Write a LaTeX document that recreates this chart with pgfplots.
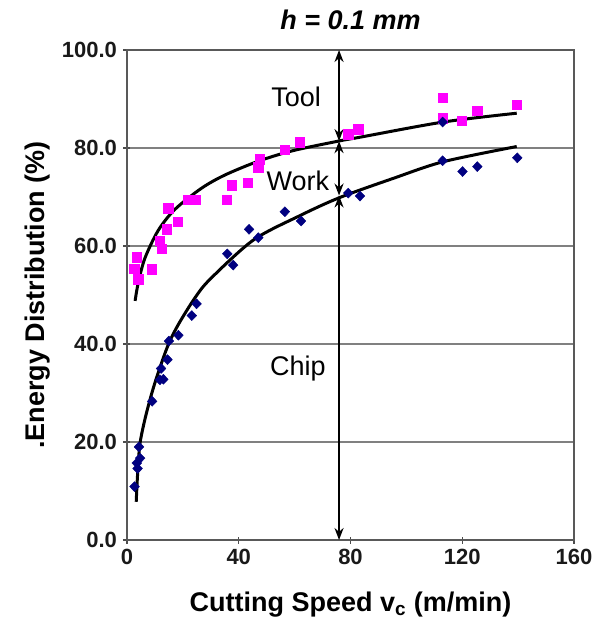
\documentclass[border=0pt]{standalone}
\usepackage{pgfplots}
\pgfplotsset{compat=1.18}
\usetikzlibrary{arrows.meta}
\usepackage{fontspec}
\setmainfont{Liberation Sans}
\definecolor{pinkm}{HTML}{FF00FF}
\definecolor{navyb}{HTML}{000080}
\begin{document}
\begin{tikzpicture}
\begin{axis}[
  name=ax,
  at={(0,0)},
  scale only axis,
  width=447pt, height=490pt,
  xmin=0, xmax=160, ymin=0, ymax=100,
  xtick={0,40,80,120,160},
  ytick={0,20,40,60,80,100},
  xtick pos=bottom, ytick pos=left,
  tick align=center,
  major tick length=7pt,
  tick style={line width=1.2pt, color=black!70},
  axis line style={line width=1.5pt, color=black!65},
  ymajorgrids,
  major grid style={line width=1.3pt, color=black!50},
  /pgf/number format/assume math mode=true,
  yticklabel={\pgfmathprintnumber[fixed,fixed zerofill,precision=1]{\tick}},
  tick label style={font=\bfseries\fontsize{22}{26}\selectfont, text=black!90},
  xticklabel style={yshift=-2pt},
  yticklabel style={xshift=-3pt},
  xlabel={Cutting Speed v\textsubscript{c} (m/min)},
  ylabel={.Energy Distribution (\%)},
  xlabel style={font=\bfseries\fontsize{27}{32}\selectfont, at={(axis description cs:0.5,-0.1327)}, anchor=center},
  ylabel style={font=\bfseries\fontsize{27}{32}\selectfont, at={(axis description cs:-0.199,0.5)}, anchor=center},
  title={\textbf{\textit{h = 0.1 mm}}},
  title style={font=\fontsize{27}{32}\selectfont, at={(axis description cs:0.5,1.049)}, anchor=center},
  clip=false,
]
% Tool+Work (upper) data
\addplot[only marks, mark=square*, mark size=4.7pt, color=pinkm] coordinates {
(3.5,57.7) (2.6,55.4) (8.8,55.3) (4.0,53.2) (12.4,59.5) (11.8,61.1)
(14.2,63.4) (14.8,67.7) (18.1,65.0) (21.9,69.4) (24.6,69.5) (35.7,69.4)
(37.5,72.4) (43.2,72.9) (47.0,76.1) (47.6,77.7) (56.5,79.6) (61.9,81.2)
(79.2,82.8) (82.8,83.8) (113,90.3) (113,86.1) (119.8,85.6) (125.4,87.6)
(139.5,88.8)
};
% Work (lower) data
\addplot[only marks, mark=diamond*, mark size=5pt, mark options={xscale=1.3}, color=navyb] coordinates {
(2.7,10.9) (3.8,14.6) (3.5,15.7) (4.7,16.7) (4.3,19.0) (9.0,28.3)
(11.8,32.7) (13.0,32.8) (12.2,35.0) (14.5,36.8) (15.0,40.6) (18.4,41.8)
(23.2,45.8) (24.9,48.2) (35.9,58.4) (38.0,56.1) (43.7,63.4) (47.0,61.7)
(56.5,67.0) (62.3,65.1) (79.2,70.8) (83.4,70.2) (113,85.3) (113,77.4)
(120.1,75.2) (125.4,76.2) (139.7,78.0)
};
% fitted curves
\addplot[smooth, black, line width=3pt] coordinates {
(2.9,48.8) (4.0,52.4) (6.4,57.5) (11.2,63.2) (17.2,67.5) (26.7,71.8)
(35.1,74.5) (47,77.3) (59,79.4) (75.6,81.4) (83.4,82.2) (113.2,85.3) (139.5,87.1)
};
\addplot[smooth, black, line width=3pt] coordinates {
(3.3,7.8) (3.8,13.5) (4.6,19.5) (6.4,24.6) (8.8,29.8) (11.2,34.2)
(14.8,39.9) (18.4,44.0) (24.3,49.4) (29.7,53.2) (45.2,61.2) (61.9,66.2)
(76.2,69.9) (95.3,73.8) (113.2,77.2) (139.5,80.3)
};
% annotation arrows
\draw[line width=2pt, -{Stealth[length=12pt,width=9pt]}] (axis cs:75.9,90) -- (axis cs:75.9,100);
\draw[line width=2pt, -{Stealth[length=12pt,width=9pt]}] (axis cs:75.9,90) -- (axis cs:75.9,81.4);
\draw[line width=2pt, -{Stealth[length=12pt,width=9pt]}] (axis cs:75.9,76) -- (axis cs:75.9,81.4);
\draw[line width=2pt, -{Stealth[length=12pt,width=9pt]}] (axis cs:75.9,76) -- (axis cs:75.9,70.3);
\draw[line width=2pt, -{Stealth[length=12pt,width=9pt]}] (axis cs:75.9,35) -- (axis cs:75.9,70.3);
\draw[line width=2pt, -{Stealth[length=12pt,width=9pt]}] (axis cs:75.9,35) -- (axis cs:75.9,0);
\node[font=\fontsize{27}{32}\selectfont, fill=white, inner sep=1pt] at (axis cs:60.5,90.4) {Tool};
\node[font=\fontsize{27}{32}\selectfont, inner sep=1pt] at (axis cs:61.2,73.2) {Work};
\node[font=\fontsize{27}{32}\selectfont, fill=white, inner sep=1pt] at (axis cs:61.2,35) {Chip};
\end{axis}
\pgfresetboundingbox
\path ([shift={(-127pt,-84pt)}]ax.south west) rectangle ([shift={(23pt,50pt)}]ax.north east);
\end{tikzpicture}
\end{document}
